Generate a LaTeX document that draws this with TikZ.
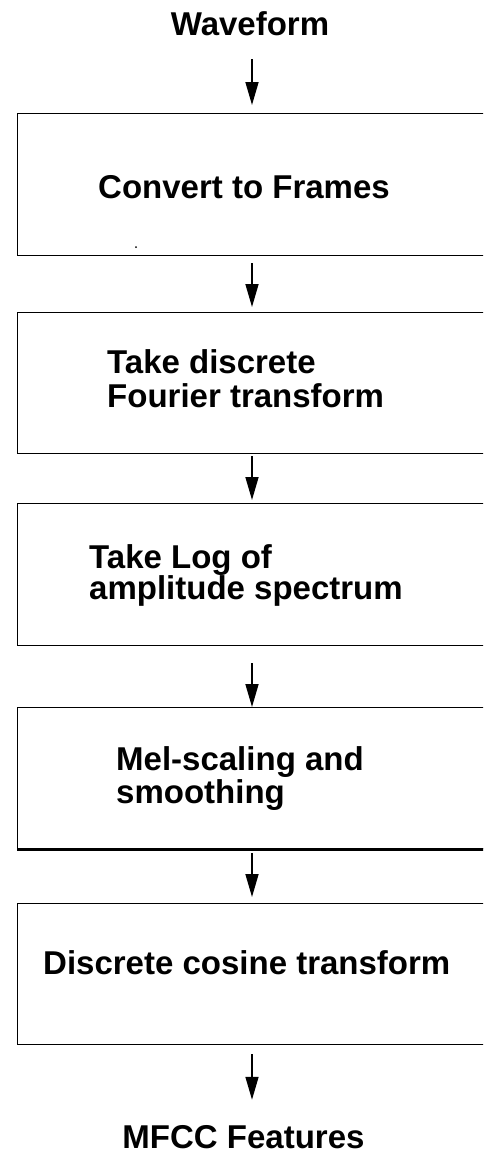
\documentclass[tikz,border=0pt]{standalone}
\usepackage{fontspec}
\setmainfont{Liberation Sans}
\usetikzlibrary{arrows.meta}
\begin{document}
\begin{tikzpicture}[x=1pt,y=-1pt,
  stagebox/.style={draw=black, line width=1.3pt, rectangle, inner sep=0pt,
    anchor=north west, minimum width=480pt, minimum height=141pt},
  steptext/.style={inner sep=0pt, font=\fontsize{33}{34}\selectfont\bfseries,
    align=left, anchor=base west},
  endtext/.style={inner sep=0pt, font=\fontsize{33}{34}\selectfont\bfseries,
    anchor=base},
  flow/.style={line width=1.6pt, -{Triangle[length=23pt,width=13pt]}}]
\useasboundingbox (0,0) rectangle (483,1154);
\clip (0,0) rectangle (483,1154);

% column of the arrows
\coordinate (ax) at (252,0);

% input and output labels
\node[endtext] (wave) at (250,35) {Waveform};
\node[endtext] (mfcc) at (243.5,1148) {MFCC Features};

% processing stages
\node[stagebox, minimum height=142pt] (b1) at (17,113) {};
\node[stagebox] (b2) at (17,312) {};
\node[stagebox, minimum height=142pt] (b3) at (17,503) {};
\node[stagebox] (b4) at (17,707) {};
\node[stagebox] (b5) at (17,903) {};
\draw[line width=2.4pt] (b4.south west) -- (b4.south east);

% stage texts
\node[steptext] (t1) at (98,198) {Convert to Frames};
\node[steptext] (t2a) at (107,373) {Take discrete};
\node[steptext] (t2b) at (107,407) {Fourier transform};
\node[steptext] (t3a) at (89,568) {Take Log of};
\node[steptext] (t3b) at (89,599) {amplitude spectrum};
\node[steptext] (t4a) at (116,770) {Mel-scaling and};
\node[steptext] (t4b) at (116,803) {smoothing};
\node[steptext] (t5) at (43,974) {Discrete cosine transform};

\fill (136,247) circle (1pt);

% connectors
\draw[flow] ([yshift=-24pt]wave.base -| ax) -- ([yshift=8pt]b1.north -| ax);
\draw[flow] ([yshift=-7pt]b1.south -| ax) -- ([yshift=5pt]b2.north -| ax);
\draw[flow] ([yshift=-2pt]b2.south -| ax) -- ([yshift=3pt]b3.north -| ax);
\draw[flow] ([yshift=-17pt]b3.south -| ax) -- (b4.north -| ax);
\draw[flow] ([yshift=-4pt]b4.south -| ax) -- ([yshift=6pt]b5.north -| ax);
\draw[flow] ([yshift=-9pt]b5.south -| ax) -- ([yshift=25pt]mfcc.north -| ax);
\end{tikzpicture}
\end{document}
